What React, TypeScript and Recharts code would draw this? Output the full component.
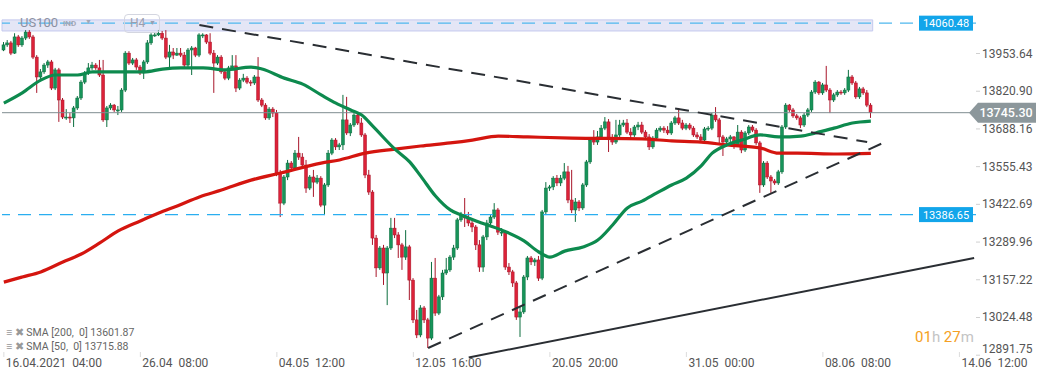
import { ComposedChart, Bar, Line, XAxis, YAxis, ReferenceLine, ReferenceArea } from "recharts"

// US100, H4 candles (open = previous close)
const FIRST_OPEN = 13966
const closes = [
  13984, 13991, 13955, 14012, 13984, 14008, 14029, 14012, 13941, 13871,
  13889, 13913, 13924, 13832, 13896, 13790, 13730, 13730, 13727, 13762,
  13797, 13853, 13885, 13903, 13913, 13903, 13878, 13720, 13762, 13772,
  13755, 13755, 13825, 13955, 13920, 13931, 13906, 13885, 13924, 13991,
  14019, 14019, 14025, 14008, 13941, 13959, 13948, 13955, 13948, 13913,
  13966, 13973, 13948, 14019, 14019, 13994, 13955, 13920, 13941, 13889,
  13867, 13903, 13910, 13832, 13860, 13867, 13853, 13850, 13871, 13790,
  13772, 13727, 13758, 13744, 13533, 13427, 13519, 13568, 13551, 13603,
  13589, 13561, 13480, 13519, 13501, 13515, 13420, 13491, 13603, 13649,
  13625, 13632, 13720, 13674, 13702, 13737, 13709, 13667, 13526, 13466,
  13304, 13199, 13269, 13181, 13269, 13339, 13315, 13280, 13237, 13273,
  13156, 13016, 12963, 13058, 13016, 12952, 13163, 13040, 13097, 13181,
  13192, 13237, 13269, 13368, 13385, 13375, 13357, 13343, 13280, 13202,
  13308, 13357, 13378, 13403, 13325, 13325, 13202, 13185, 13146, 13026,
  13044, 13167, 13234, 13220, 13227, 13163, 13396, 13480, 13484, 13515,
  13498, 13515, 13537, 13438, 13403, 13431, 13410, 13491, 13572, 13649,
  13642, 13660, 13691, 13713, 13656, 13642, 13667, 13702, 13709, 13677,
  13667, 13695, 13702, 13677, 13660, 13625, 13656, 13684, 13691, 13684,
  13674, 13709, 13727, 13709, 13691, 13702, 13691, 13667, 13660, 13649,
  13688, 13691, 13737, 13720, 13660, 13642, 13653, 13660, 13632, 13677,
  13614, 13674, 13695, 13684, 13639, 13491, 13568, 13519, 13505, 13498,
  13537, 13695, 13772, 13755, 13734, 13727, 13702, 13737, 13755, 13818,
  13853, 13815, 13843, 13825, 13790, 13808, 13818, 13815, 13825, 13871,
  13850, 13801, 13829, 13815, 13772, 13745.3,
]
const highs = [
  13994, 14001, 13998, 14025, 14019, 14015, 14036, 14036, 14019, 13948,
  13899, 13920, 13931, 13931, 13903, 13903, 13797, 13758, 13744, 13769,
  13804, 13860, 13892, 13920, 13924, 13920, 13931, 13931, 13769, 13779,
  13776, 13769, 13832, 13962, 13962, 13938, 13938, 13913, 13931, 14001,
  14025, 14029, 14036, 14033, 14036, 13984, 13973, 13973, 13973, 13959,
  13973, 13980, 13977, 14025, 14025, 14022, 14025, 13966, 13948, 13948,
  13896, 13910, 13948, 13948, 13867, 13882, 13874, 13860, 13878, 13941,
  13797, 13779, 13765, 13765, 13755, 13544, 13526, 13579, 13575, 13614,
  13660, 13603, 13579, 13526, 13544, 13526, 13522, 13498, 13614, 13656,
  13656, 13639, 13808, 13801, 13709, 13744, 13744, 13727, 13674, 13544,
  13473, 13315, 13276, 13280, 13276, 13375, 13375, 13325, 13287, 13332,
  13280, 13163, 13051, 13068, 13065, 13023, 13220, 13234, 13104, 13192,
  13234, 13244, 13280, 13375, 13396, 13445, 13396, 13368, 13350, 13297,
  13315, 13368, 13385, 13427, 13410, 13339, 13332, 13216, 13192, 13153,
  13065, 13174, 13241, 13241, 13234, 13241, 13403, 13501, 13491, 13522,
  13526, 13526, 13568, 13558, 13544, 13445, 13438, 13498, 13579, 13656,
  13684, 13681, 13702, 13730, 13723, 13670, 13720, 13720, 13720, 13723,
  13691, 13702, 13713, 13713, 13684, 13670, 13663, 13691, 13698, 13698,
  13698, 13716, 13734, 13762, 13720, 13709, 13709, 13698, 13677, 13670,
  13695, 13698, 13744, 13765, 13727, 13667, 13660, 13667, 13663, 13702,
  13684, 13681, 13702, 13702, 13691, 13646, 13575, 13575, 13526, 13512,
  13544, 13702, 13779, 13776, 13762, 13741, 13734, 13744, 13762, 13825,
  13860, 13857, 13850, 13910, 13832, 13815, 13825, 13825, 13832, 13896,
  13878, 13857, 13836, 13836, 13825, 13779,
]
const lows = [
  13962, 13977, 13948, 13952, 13977, 13977, 14001, 14005, 13934, 13815,
  13864, 13882, 13903, 13825, 13825, 13713, 13723, 13720, 13709, 13695,
  13755, 13790, 13846, 13878, 13896, 13896, 13871, 13713, 13695, 13755,
  13748, 13737, 13748, 13818, 13913, 13913, 13896, 13878, 13864, 13917,
  13984, 14012, 14015, 14001, 13934, 13906, 13934, 13945, 13941, 13906,
  13906, 13878, 13941, 13941, 14008, 13987, 13948, 13815, 13913, 13882,
  13860, 13860, 13896, 13818, 13825, 13853, 13846, 13839, 13843, 13783,
  13765, 13720, 13720, 13730, 13522, 13378, 13420, 13508, 13540, 13544,
  13579, 13551, 13463, 13473, 13449, 13494, 13413, 13385, 13484, 13596,
  13614, 13614, 13614, 13667, 13663, 13695, 13702, 13660, 13515, 13456,
  13280, 13167, 13192, 13139, 13068, 13262, 13304, 13234, 13192, 13227,
  13086, 13005, 12952, 12955, 13005, 12917, 12945, 13030, 13033, 13086,
  13174, 13185, 13227, 13262, 13361, 13343, 13346, 13325, 13262, 13185,
  13185, 13297, 13350, 13371, 13315, 13311, 13192, 13174, 13132, 13016,
  12956, 13037, 13156, 13209, 13206, 13153, 13156, 13385, 13470, 13473,
  13487, 13487, 13508, 13427, 13392, 13361, 13399, 13403, 13484, 13565,
  13632, 13632, 13653, 13684, 13607, 13632, 13635, 13660, 13695, 13670,
  13656, 13660, 13684, 13670, 13653, 13614, 13618, 13649, 13677, 13674,
  13667, 13667, 13702, 13702, 13684, 13684, 13684, 13660, 13653, 13642,
  13642, 13681, 13684, 13713, 13632, 13593, 13625, 13639, 13618, 13625,
  13603, 13607, 13667, 13677, 13632, 13463, 13484, 13512, 13463, 13491,
  13491, 13530, 13688, 13748, 13727, 13720, 13691, 13695, 13730, 13748,
  13811, 13808, 13808, 13818, 13744, 13783, 13801, 13808, 13808, 13818,
  13843, 13794, 13794, 13808, 13765, 13727,
]

// moving averages, read at these bar indices
const sma50Idx = [0, 5, 10, 14, 20, 24, 30, 38, 43, 48, 54, 60, 67, 70, 76, 81, 86, 90, 94, 97, 100, 106, 110, 113, 117, 121, 124, 128, 135, 141, 145, 148, 152, 157, 161, 165, 169, 173, 177, 181, 185, 189, 192, 196, 200, 205, 210, 216, 220, 225, 230, 235]
const sma50Val = [13779, 13815, 13860, 13878, 13878, 13889, 13889, 13889, 13899, 13903, 13903, 13896, 13906, 13899, 13867, 13846, 13808, 13779, 13755, 13737, 13698, 13617, 13572, 13522, 13452, 13403, 13385, 13364, 13332, 13294, 13255, 13237, 13258, 13273, 13297, 13350, 13410, 13434, 13463, 13491, 13515, 13558, 13603, 13632, 13649, 13667, 13660, 13663, 13674, 13691, 13709, 13715.88]
const sma200Idx = [0, 5, 10, 16, 21, 26, 31, 37, 42, 47, 53, 59, 67, 75, 86, 91, 98, 106, 113, 121, 127, 134, 142, 154, 173, 181, 189, 196, 205, 210, 215, 226, 235]
const sma200Val = [13149, 13167, 13185, 13220, 13248, 13287, 13329, 13364, 13392, 13417, 13449, 13473, 13508, 13533, 13568, 13579, 13603, 13617, 13628, 13639, 13649, 13663, 13660, 13656, 13653, 13646, 13642, 13632, 13621, 13603, 13603, 13600, 13601.87]

const TOTAL_SLOTS = 264 // candles + empty space on the right
const xTicks = [0, 37, 74, 111, 148, 185, 222, 259]
const xTickDates = ["16.04.2021", "26.04", "04.05", "12.05", "20.05", "31.05", "08.06", "14.06"]
const xTickTimes = ["04:00", "08:00", "12:00", "16:00", "20:00", "00:00", "08:00", "12:00"]
const yTicks = [13953.64, 13820.9, 13688.16, 13555.43, 13422.69, 13289.96, 13157.22, 13024.48, 12891.75]
const Y_DOMAIN = [12885.4, 14142]

const RESISTANCE = 14060.48
const SUPPORT = 13386.65
const LAST_PRICE = 13745.3
const trendLines = [
  { x1: 53, y1: 14054, x2: 234, y2: 13642, dashed: true },
  { x1: 115, y1: 12917, x2: 238, y2: 13637, dashed: true },
  { x1: 126, y1: 12884, x2: 263, y2: 13234, dashed: false },
]

const data = Array.from({ length: TOTAL_SLOTS }, (_, i) => {
  const row: any = { i }
  if (i < closes.length) {
    row.open = i === 0 ? FIRST_OPEN : closes[i - 1]
    row.close = closes[i]
    row.high = highs[i]
    row.low = lows[i]
    row.range = [lows[i], highs[i]]
  }
  const a = sma50Idx.indexOf(i)
  if (a >= 0) row.sma50 = sma50Val[a]
  const b = sma200Idx.indexOf(i)
  if (b >= 0) row.sma200 = sma200Val[b]
  return row
})

function Candle(props: any) {
  const { x, y, width, height, payload } = props
  if (!payload || payload.close == null) return null
  const { open, close, high, low } = payload
  const top = Math.min(y, y + height)
  const h = Math.abs(height)
  const k = h / (high - low || 1)
  const py = (v: number) => top + (high - v) * k
  const up = close >= open
  const fill = up ? "#17945a" : "#dc2239"
  const edge = up ? "#0c6e3f" : "#a8162a"
  const b1 = py(Math.max(open, close))
  const b2 = py(Math.min(open, close))
  const cx = x + width / 2
  return (
    <g>
      <line x1={cx} x2={cx} y1={top} y2={top + h} stroke={edge} strokeWidth={1} />
      <rect x={x} y={b1} width={width} height={Math.max(1, b2 - b1)} fill={fill} stroke={edge} strokeWidth={0.5} />
    </g>
  )
}

function XTick(props: any) {
  const { x, y, payload } = props
  const n = xTicks.indexOf(payload.value)
  if (n < 0) return null
  return (
    <g>
      <line x1={x} x2={x} y1={y - 5} y2={y} stroke="#dcdcdc" />
      <text x={x + 2} y={y + 10} fontSize={12} fill="#555" fontFamily="Roboto, sans-serif">
        {xTickDates[n]}
        <tspan dx={6}>{xTickTimes[n]}</tspan>
      </text>
    </g>
  )
}

function YTick(props: any) {
  const { x, y, payload } = props
  return (
    <text x={x} y={Math.min(y, 349)} dy={4} fontSize={12} fill="#555" fontFamily="Roboto, sans-serif">
      {payload.value.toFixed(2)}
    </text>
  )
}

function BlueTag(props: any) {
  const vy = props.viewBox?.y ?? 0
  return (
    <g>
      <rect x={919} y={vy - 7.5} width={54} height={15} fill="#12a5ea" />
      <text x={946} y={vy + 4} textAnchor="middle" fontSize={11} fill="#fff" fontFamily="Roboto, sans-serif">
        {props.text}
      </text>
    </g>
  )
}

function PriceTag(props: any) {
  const vy = props.viewBox?.y ?? 0
  const pts = `969,${vy} 978,${vy - 10} 1036,${vy - 10} 1036,${vy + 10} 978,${vy + 10}`
  return (
    <g>
      <polygon points={pts} fill="#8c979b" />
      <text x={1006} y={vy + 4.5} textAnchor="middle" fontSize={12.5} fill="#fff" fontWeight={500} fontFamily="Roboto, sans-serif">
        {props.text}
      </text>
    </g>
  )
}

export default function App() {
  return (
    <div style={{ position: "absolute", left: 0, top: 0, width: 1041, height: 380, background: "#fff", fontFamily: "Roboto, sans-serif" }}>
      <ComposedChart width={1041} height={380} data={data} margin={{ top: 0, right: 0, bottom: 0, left: 2 }}>
        <XAxis dataKey="i" type="category" ticks={xTicks} interval={0} axisLine={false} tickLine={false} tickSize={0} tickMargin={0} height={23} tick={(p: any) => <XTick {...p} />} />
        <YAxis
          orientation="right"
          type="number"
          domain={Y_DOMAIN}
          allowDataOverflow
          ticks={yTicks}
          interval={0}
          width={65}
          axisLine={false}
          tickLine={{ stroke: "#d0d0d0" }}
          tickSize={4}
          tickMargin={2}
          tick={(p: any) => <YTick {...p} />}
        />
        <ReferenceArea x1={0} x2={235} y1={14033} y2={14072} fill="#e4e6f6" fillOpacity={1} stroke="#c4c9ee" ifOverflow="visible" />
        <ReferenceLine y={RESISTANCE} stroke="#4fb8ee" strokeDasharray="13 8" strokeWidth={1.2} label={<BlueTag text="14060.48" />} />
        <ReferenceLine y={SUPPORT} stroke="#2aaef0" strokeDasharray="13 8" strokeWidth={1.2} label={<BlueTag text="13386.65" />} />
        <ReferenceLine y={LAST_PRICE} stroke="#7f8d91" strokeWidth={1} label={<PriceTag text="13745.30" />} />
        <Bar dataKey="range" barSize={3} shape={(p: any) => <Candle {...p} />} isAnimationActive={false} />
        <Line dataKey="sma200" type="monotone" stroke="#d4150f" strokeWidth={3.2} dot={false} activeDot={false} connectNulls isAnimationActive={false} />
        <Line dataKey="sma50" type="monotone" stroke="#0d8a4e" strokeWidth={3.2} dot={false} activeDot={false} connectNulls isAnimationActive={false} />
        {trendLines.map((t, n) => (
          <ReferenceLine
            key={n}
            segment={[{ x: t.x1, y: t.y1 }, { x: t.x2, y: t.y2 }]}
            stroke="#2a2e33"
            strokeWidth={2}
            strokeDasharray={t.dashed ? "14 9" : undefined}
            ifOverflow="visible"
          />
        ))}
      </ComposedChart>

      {/* instrument header */}
      <div style={{ position: "absolute", left: 20, top: 15, fontSize: 13, color: "#8c91a3" }}>US100</div>
      <div style={{ position: "absolute", left: 63, top: 19, fontSize: 8, fontWeight: 700, color: "#a3a7b5" }}>IND</div>
      <div style={{ position: "absolute", left: 85, top: 18, fontSize: 7, color: "#a3a7b5" }}>▼</div>
      <div style={{ position: "absolute", left: 124, top: 14, width: 34, height: 17, border: "1px solid #d4d6e0", borderRadius: 4, fontSize: 12, color: "#9a9eae" }}>
        <span style={{ position: "absolute", left: 5, top: 1 }}>H4</span>
        <span style={{ position: "absolute", left: 24, top: 4, fontSize: 7 }}>▼</span>
      </div>

      {/* indicator legend */}
      <div style={{ position: "absolute", left: 6, top: 326, fontSize: 10.5, color: "#666", lineHeight: "13.5px", whiteSpace: "pre" }}>
        <div><span style={{ color: "#999" }}>≡ ✖ </span>SMA [200,  0] 13601.87</div>
        <div><span style={{ color: "#999" }}>≡ ✖ </span>SMA [50,  0] 13715.88</div>
      </div>

      {/* bar countdown */}
      <div style={{ position: "absolute", left: 915, top: 328, fontSize: 15, whiteSpace: "pre" }}>
        <span style={{ color: "#f5a023" }}>01</span>
        <span style={{ color: "#c4c4c4" }}>h </span>
        <span style={{ color: "#f5a023" }}>27</span>
        <span style={{ color: "#c4c4c4" }}>m</span>
      </div>
    </div>
  )
}
